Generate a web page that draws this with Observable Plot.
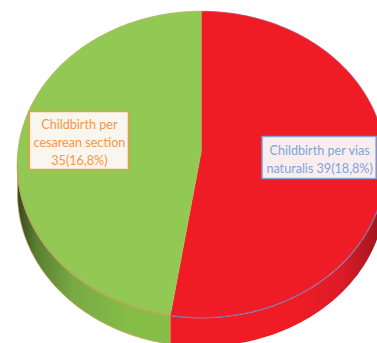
<!DOCTYPE html>
<html>
<head>
<meta charset="utf-8">
<script src="https://cdn.jsdelivr.net/npm/d3@7"></script>
<script src="https://cdn.jsdelivr.net/npm/@observablehq/plot@0.6"></script>
<style>
  html, body { margin: 0; padding: 0; background: #fff; }
  svg { display: block; }
</style>
</head>
<body>
<div id="chart"></div>
<script>
// Delivery modes and their counts
const categories = ["Childbirth per vias naturalis", "Childbirth per cesarean section"];
const counts = [39, 35];
const labelLines = [
  ["Childbirth per vias", "naturalis 39(18,8%)"],
  ["Childbirth per", "cesarean section", "35(16,8%)"]
];
const faceColors = ["#ef1c25", "#92c854"];
const edgeColors = ["#6f6fa8", "#c9914a"];
const haloColors = ["#aab4dc", "#d8b68a"];
const textColors = ["#7ba7d9", "#f79646"];
const boxFills = ["#f9edf0", "#f8f6ee"];

// Pie drawn in unit coordinates, tilted through the x and y scale ranges
const W = 377, H = 343;
const cx = 201, cy = 164, rx = 184, ry = 153;
const depth = 29 / ry;
const hub = 14 / ry;
const xScale = {domain: [-cx / rx, (W - cx) / rx], range: [0, W]};
const yScale = {domain: [cy / ry, (cy - H) / ry], range: [0, H]};

const total = d3.sum(counts);
const arcs = [];
let acc = 0;
counts.forEach((v, i) => {
  const a0 = acc / total * 2 * Math.PI;
  acc += v;
  arcs.push({i, a0, a1: acc / total * 2 * Math.PI});
});

const polar = (a, r = 1, drop = 0) => ({x: r * Math.sin(a), y: r * Math.cos(a) - drop});
const sweep = (a0, a1) => d3.range(0, 181).map(k => a0 + (a1 - a0) * k / 180);

// Top face of each slice, meeting at the raised hub
const face = arcs.flatMap(({i, a0, a1}) =>
  [{x: 0, y: hub}, ...sweep(a0, a1).map(a => polar(a))].map(p => ({...p, i})));

// Rim of each slice: only the part of the arc that faces the viewer
const frontArc = ({a0, a1}) => sweep(Math.max(a0, Math.PI / 2), Math.min(a1, 3 * Math.PI / 2));
const rim = arcs.flatMap(arc => {
  const pts = frontArc(arc);
  return [...pts.map(a => polar(a)), ...pts.slice().reverse().map(a => polar(a, 1, depth))].map(p => ({...p, i: arc.i}));
});

// Label boxes sit on each slice's mid-angle and carry their text centred
const boxes = arcs.map(({i, a0, a1}) => {
  const mid = polar((a0 + a1) / 2, 0.655);
  const hw = (i === 0 ? 57 : 49.5) / rx, hh = (i === 0 ? 21 : 29) / ry;
  return {
    i, x: mid.x, y: mid.y,
    x1: mid.x - hw, x2: mid.x + hw, y1: mid.y - hh, y2: mid.y + hh,
    text: labelLines[i].join("\n")
  };
});

const series = (i, d) => d.filter(p => p.i === i);

const chart = Plot.plot({
  width: W,
  height: H,
  margin: 0,
  style: {background: "#fff", fontFamily: "Lato, 'Open Sans', sans-serif"},
  x: {...xScale, axis: null},
  y: {...yScale, axis: null},
  marks: [
    Plot.line(series(1, rim), {x: "x", y: "y", fill: "url(#rim-green)", stroke: "#d9a066", strokeWidth: 0.7, curve: "linear"}),
    Plot.line(series(0, rim), {x: "x", y: "y", fill: "url(#rim-red)", stroke: "none", curve: "linear"}),
    // Faint halo round the whole outer arc of each slice
    ...arcs.map(({i, a0, a1}) => Plot.line(sweep(a0, a1).map(a => polar(a)), {
      x: "x", y: "y", stroke: haloColors[i], strokeWidth: 1.6, curve: "linear"
    })),
    ...arcs.map(({i}) => Plot.line(series(i, face), {
      x: "x", y: "y", fill: faceColors[i], stroke: faceColors[i], strokeWidth: 0.5, curve: "linear"
    })),
    // Thin coloured outline along the near edge of the face
    ...arcs.map(arc => Plot.line(frontArc(arc).map(a => polar(a)), {
      x: "x", y: "y", stroke: edgeColors[arc.i], strokeWidth: 0.9, curve: "linear"
    })),
    ...boxes.map(b => Plot.rect([b], {
      x1: "x1", x2: "x2", y1: "y1", y2: "y2", dx: -2, dy: -15,
      fill: boxFills[b.i], stroke: textColors[b.i], strokeWidth: 1.4,
      style: {filter: "drop-shadow(1.5px 2px 2px rgba(60,40,20,.35))"}
    })),
    ...boxes.map(b => Plot.text([b], {
      x: "x", y: "y", text: "text", dx: -2, dy: -15,
      fill: textColors[b.i], fontSize: 12.6, lineHeight: 1.44
    }))
  ]
});

// Shading of the rim, dark toward the outer ends of the pie
const defs = d3.select(chart).insert("defs", ":first-child");
const gradient = (id, stops) => {
  const g = defs.append("linearGradient").attr("id", id).attr("gradientUnits", "userSpaceOnUse")
    .attr("x1", 17).attr("x2", 385).attr("y1", 0).attr("y2", 0);
  stops.forEach(([o, c]) => g.append("stop").attr("offset", o).attr("stop-color", c));
};
gradient("rim-green", [[0, "#33491c"], [0.05, "#587f30"], [0.15, "#78a944"], [0.3, "#85bd47"], [1, "#85bd47"]]);
gradient("rim-red", [[0, "#ef1c25"], [0.75, "#ef1c25"], [0.88, "#dc1c28"], [0.97, "#a81620"], [1, "#8f131c"]]);

document.getElementById("chart").append(chart);
</script>
</body>
</html>
